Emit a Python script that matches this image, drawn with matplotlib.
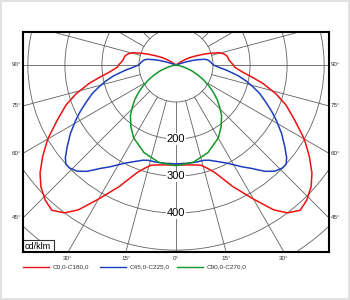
import numpy as np
import matplotlib
matplotlib.use("Agg")
import matplotlib.pyplot as plt
from matplotlib.patches import Circle, Rectangle
from matplotlib.lines import Line2D

plt.rcParams['font.family'] = ['Liberation Sans', 'DejaVu Sans']

# luminous intensity (cd/klm) against gamma angle (deg, 0 = straight down)
red_gamma = [0, 5, 10, 14, 17, 20, 25, 30, 34, 37, 40.5, 44, 48, 51.5, 55.5, 60, 65, 70, 74, 78,
             81, 84, 86, 88, 90, 93, 96, 100, 103, 106, 108.5, 111, 114, 117, 120, 123, 125]
red_int = [270, 271, 274, 279, 292, 310, 362, 418, 472, 500, 516, 508, 491, 469, 437, 400, 354, 316, 280, 240,
           207, 180, 168, 158, 155, 148, 143, 140, 133, 120, 100, 82, 62, 47, 34, 16, 0]

blue_gamma = [0, 6, 12, 16, 19, 23, 27, 30, 33, 36, 40, 43, 46, 48, 50, 53, 57, 61, 64, 67, 71, 74,
              77, 80, 84, 87, 90, 93, 96, 99, 101, 103, 105, 107, 108, 109]
blue_int = [267, 267, 268, 268, 272, 283, 297, 311, 328, 345, 375, 392, 400, 400, 390, 368, 340, 310, 288, 266, 240, 217,
            195, 172, 138, 115, 101, 96, 92, 87, 80, 65, 48, 30, 15, 0]

green_gamma = [0, 10, 20, 30, 36, 42, 46, 50, 54, 58, 62, 66, 70, 74, 78, 80]
green_int = [272, 267, 252, 228, 207, 184, 164, 145, 124, 103, 82, 62, 44, 26, 10, 0]

series = [
    ('C0,0-C180,0', red_gamma, red_int, '#ee1111'),
    ('C45,0-C225,0', blue_gamma, blue_int, '#1c3fc0'),
    ('C90,0-C270,0', green_gamma, green_int, '#11982a'),
]

rings = [100, 200, 300, 400, 500, 600]
ring_labels = [200, 300, 400]
side_ticks = [90, 75, 60, 45]
bottom_ticks = [30, 15, 0]

fig = plt.figure(figsize=(3.5, 3.0), dpi=100)
fig.patches.append(Rectangle((0.003, 0.003), 0.994, 0.994, transform=fig.transFigure,
                             fill=False, edgecolor='#dcdcdc', linewidth=1.2))

ax = fig.add_axes([23 / 350, 48 / 300, 306 / 350, 220 / 300])
xmax = 413
ymin, ymax = -505, 89
ax.set_xlim(-xmax, xmax)
ax.set_ylim(ymin, ymax)
ax.set_aspect('equal')
ax.set_xticks([])
ax.set_yticks([])
for sp in ax.spines.values():
    sp.set_linewidth(1.5)
    sp.set_color('black')
    sp.set_zorder(6)

grid_kw = dict(color='#606060', linewidth=0.6, zorder=1)
for r in rings:
    ax.add_patch(Circle((0, 0), r, fill=False, **grid_kw))
for a in range(0, 360, 15):
    t = np.radians(a)
    ax.plot([100 * np.sin(t), 900 * np.sin(t)], [-100 * np.cos(t), -900 * np.cos(t)], **grid_kw)

for v in ring_labels:
    ax.text(0, -v, str(v), ha='center', va='center', fontsize=8, zorder=3,
            bbox=dict(boxstyle='square,pad=0.05', facecolor='white', edgecolor='none'))

for name, g, i, c in series:
    g = np.radians(np.array(g))
    i = np.array(i, dtype=float)
    xr, yr = i * np.sin(g), -i * np.cos(g)
    x = np.concatenate([-xr[::-1], xr[1:]])
    y = np.concatenate([yr[::-1], yr[1:]])
    ax.plot(x, y, color=c, linewidth=1.1, zorder=4, solid_joinstyle='round')

lab_kw = dict(fontsize=4.5, color='#333333')
for a in side_ticks:
    yv = -xmax / np.tan(np.radians(a)) if a != 90 else 0
    ax.text(-xmax - 4, yv, f'{a}°', ha='right', va='center', clip_on=False, **lab_kw)
    ax.text(xmax + 4, yv, f'{a}°', ha='left', va='center', clip_on=False, **lab_kw)
for a in bottom_ticks:
    xv = -ymin * np.tan(np.radians(a))
    ax.text(xv, ymin - 10, f'{a}°', ha='center', va='top', clip_on=False, **lab_kw)
    if a:
        ax.text(-xv, ymin - 10, f'{a}°', ha='center', va='top', clip_on=False, **lab_kw)

# unit box in the lower left corner
ax.add_patch(Rectangle((-xmax, ymin), 84, 32, facecolor='white', edgecolor='#333333',
                       linewidth=0.8, zorder=5))
ax.text(-xmax + 5, ymin + 15, 'cd/klm', ha='left', va='center', fontsize=6.5, zorder=5.5)

# legend row
ly = 1 - 267 / 300
for (name, g, i, c), x0 in zip(series, [23, 100, 177]):
    fig.add_artist(Line2D([x0 / 350, (x0 + 26) / 350], [ly, ly], color=c, linewidth=1.0))
    fig.text((x0 + 30) / 350, ly, name, ha='left', va='center', fontsize=4.6, color='#333333')

fig.savefig('out.png', dpi=100)
